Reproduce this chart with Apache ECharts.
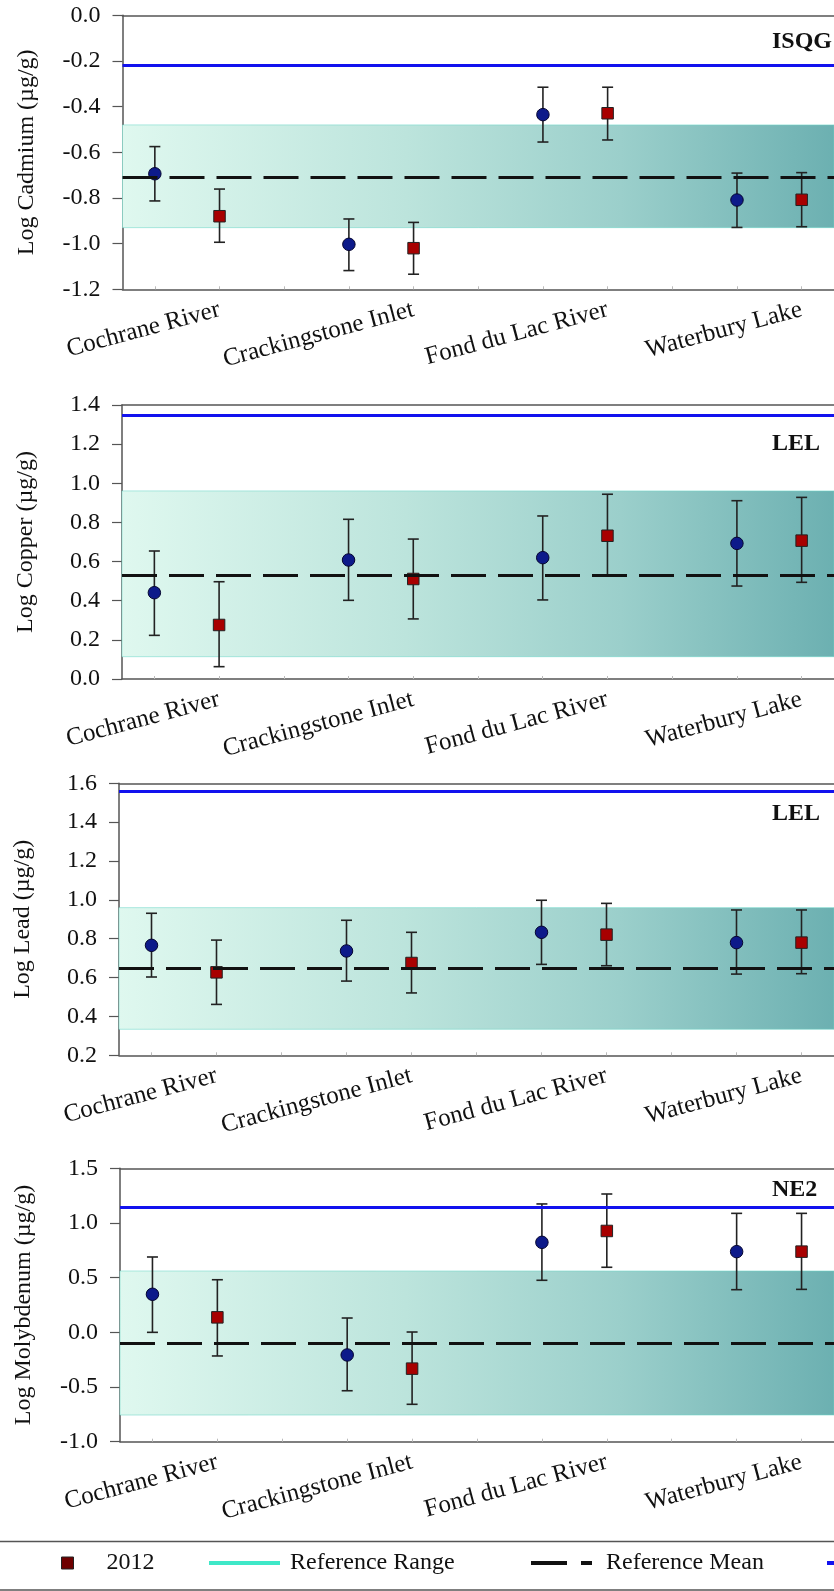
<!DOCTYPE html>
<html><head><meta charset="utf-8">
<script src="https://cdn.jsdelivr.net/npm/echarts@6/dist/echarts.min.js"></script>
<style>html,body{margin:0;padding:0;background:#fff;overflow:hidden}#c{width:834px;height:1591px}</style>
</head><body><div id="c"></div><script>
// ---- data ----
const categories = ['Cochrane River', 'Crackingstone Inlet', 'Fond du Lac River', 'Waterbury Lake'];
const yearNames = ['2008', '2012'];
const metalNames = ['Cadmium', 'Copper', 'Lead', 'Molybdenum'];
const guidelineNames = ['ISQG', 'LEL', 'LEL', 'NE2'];

const cadmium2008 = [-0.694, -1.003, -0.435, -0.809];
const cadmium2008Lo = [-0.813, -1.118, -0.555, -0.929];
const cadmium2008Hi = [-0.575, -0.892, -0.315, -0.691];
const cadmium2012 = [-0.880, -1.020, -0.429, -0.808];
const cadmium2012Lo = [-0.994, -1.134, -0.546, -0.926];
const cadmium2012Hi = [-0.761, -0.907, -0.315, -0.689];

const copper2008 = [0.441, 0.608, 0.620, 0.693];
const copper2008Lo = [0.223, 0.402, 0.404, 0.475];
const copper2008Hi = [0.654, 0.816, 0.833, 0.911];
const copper2012 = [0.276, 0.511, 0.732, 0.707];
const copper2012Lo = [0.063, 0.307, 0.531, 0.494];
const copper2012Hi = [0.497, 0.715, 0.944, 0.928];

const lead2008 = [0.766, 0.737, 0.833, 0.780];
const lead2008Lo = [0.603, 0.582, 0.668, 0.618];
const lead2008Hi = [0.931, 0.895, 0.998, 0.948];
const lead2012 = [0.627, 0.675, 0.821, 0.780];
const lead2012Lo = [0.462, 0.521, 0.661, 0.620];
const lead2012Hi = [0.793, 0.833, 0.982, 0.948];

const molybdenum2008 = [0.348, -0.207, 0.823, 0.738];
const molybdenum2008Lo = [0.000, -0.534, 0.476, 0.390];
const molybdenum2008Hi = [0.689, 0.131, 1.174, 1.088];
const molybdenum2012 = [0.137, -0.332, 0.927, 0.738];
const molybdenum2012Lo = [-0.216, -0.658, 0.595, 0.393];
const molybdenum2012Hi = [0.481, 0.003, 1.265, 1.088];

// reference range [low, high], reference mean, guideline
const refRangeLow = [-0.93, 0.114, 0.334, -0.756];
const refRangeHigh = [-0.48, 0.961, 0.960, 0.561];
const refMean = [-0.71, 0.531, 0.648, -0.095];
const guideline = [-0.218, 1.349, 1.562, 1.137];

// y axis tick scales
const yMin = [-1.2, 0.0, 0.2, -1.0];
const yMax = [0.0, 1.4, 1.6, 1.5];
const yStep = [0.2, 0.2, 0.2, 0.5];

const panels = [
  {m: cadmium2008, lo: cadmium2008Lo, hi: cadmium2008Hi, m2: cadmium2012, lo2: cadmium2012Lo, hi2: cadmium2012Hi},
  {m: copper2008, lo: copper2008Lo, hi: copper2008Hi, m2: copper2012, lo2: copper2012Lo, hi2: copper2012Hi},
  {m: lead2008, lo: lead2008Lo, hi: lead2008Hi, m2: lead2012, lo2: lead2012Lo, hi2: lead2012Hi},
  {m: molybdenum2008, lo: molybdenum2008Lo, hi: molybdenum2008Hi, m2: molybdenum2012, lo2: molybdenum2012Lo, hi2: molybdenum2012Hi}
];

// ---- layout ----
const FONT = '"Liberation Serif", "Times New Roman", serif';
const gridLeft = [122.5, 122, 119, 120];
const gridTop = [15.3, 405, 783.3, 1168.3];
const gridHeight = [274, 274, 272, 273.4];
const slotW = 65.5;
const guideLabelTop = [30, 431.5, 801.5, 1178];

// category slots: 2008, 2012, gap per site
const slots = [];
categories.forEach((c, i) => { slots.push('', c); if (i < categories.length - 1) slots.push(''); });

const chart = echarts.init(document.getElementById('c'), null, {renderer: 'canvas'});

const grids = [], xAxes = [], xTopAxes = [], yAxes = [], series = [], titles = [];
const bandGradient = () => new echarts.graphic.LinearGradient(0, 0, 1, 0, [
  {offset: 0, color: '#dff8ef'},
  {offset: 0.4, color: '#bce4dc'},
  {offset: 0.7, color: '#9bcfcb'},
  {offset: 1, color: '#6cb0b1'}
]);

panels.forEach((p, k) => {
  grids.push({left: gridLeft[k], top: gridTop[k], width: slotW * slots.length, height: gridHeight[k],
    show: false, containLabel: false});
  xAxes.push({type: 'category', gridIndex: k, data: slots, position: 'bottom', boundaryGap: true,
    axisLine: {show: true, onZero: false, lineStyle: {color: '#555', width: 1.5}},
    axisTick: {show: true, alignWithLabel: true, interval: 0, inside: true, length: 3, lineStyle: {color: '#bbb', width: 1}},
    axisLabel: {interval: 0, rotate: 15, margin: 20, fontFamily: FONT, fontSize: 25, color: '#111'},
    splitLine: {show: false}});
  xTopAxes.push({type: 'category', gridIndex: k, data: slots, position: 'top', boundaryGap: true,
    axisLine: {show: true, onZero: false, lineStyle: {color: '#555', width: 1.5}},
    axisTick: {show: false}, axisLabel: {show: false}, splitLine: {show: false}});
  yAxes.push({type: 'value', gridIndex: k, min: yMin[k], max: yMax[k], interval: yStep[k],
    name: 'Log ' + metalNames[k] + ' (\u00b5g/g)', nameLocation: 'middle', nameRotate: 90, nameGap: 84,
    nameTextStyle: {fontFamily: FONT, fontSize: 24, color: '#111'},
    axisLine: {show: true, onZero: false, lineStyle: {color: '#555', width: 1.5}},
    axisTick: {show: true, length: 10, lineStyle: {color: '#555', width: 1.2}},
    axisLabel: {margin: 22, fontFamily: FONT, fontSize: 24, color: '#111', formatter: v => v.toFixed(1)},
    splitLine: {show: false}});

  series.push({type: 'line', name: 'Reference Range', xAxisIndex: k, yAxisIndex: k, data: [], symbol: 'none', z: 1,
    silent: true,
    markArea: {silent: true, itemStyle: {color: bandGradient(), borderColor: 'rgba(110,215,200,0.55)', borderWidth: 1},
      data: [[{yAxis: refRangeLow[k]}, {yAxis: refRangeHigh[k]}]]}});
  series.push({type: 'line', name: 'Reference Mean', xAxisIndex: k, yAxisIndex: k, data: [], symbol: 'none', z: 2,
    markLine: {silent: true, symbol: ['none', 'none'], label: {show: false}, animation: false,
      lineStyle: {color: '#111', width: 3.2, type: [35, 12]}, emphasis: {disabled: true},
      data: [{yAxis: refMean[k]}]}});
  series.push({type: 'line', name: 'Sediment Quality Guideline', xAxisIndex: k, yAxisIndex: k, data: [], symbol: 'none', z: 2,
    markLine: {silent: true, symbol: ['none', 'none'], label: {show: false}, animation: false,
      lineStyle: {color: '#1212ee', width: 2.8, type: 'solid'}, emphasis: {disabled: true},
      data: [{yAxis: guideline[k]}]}});

  const errData = [];
  categories.forEach((c, i) => {
    errData.push([3 * i, p.lo[i], p.hi[i]]);
    errData.push([3 * i + 1, p.lo2[i], p.hi2[i]]);
  });
  series.push({type: 'custom', name: 'error', xAxisIndex: k, yAxisIndex: k, z: 3, silent: true,
    encode: {x: 0, y: [1, 2]}, data: errData,
    renderItem: (params, api) => {
      const a = api.coord([api.value(0), api.value(1)]);
      const b = api.coord([api.value(0), api.value(2)]);
      const cap = 5.5;
      const st = {stroke: '#222', lineWidth: 1.6, fill: null};
      return {type: 'group', children: [
        {type: 'line', shape: {x1: a[0], y1: a[1], x2: b[0], y2: b[1]}, style: st},
        {type: 'line', shape: {x1: a[0] - cap, y1: a[1], x2: a[0] + cap, y2: a[1]}, style: st},
        {type: 'line', shape: {x1: b[0] - cap, y1: b[1], x2: b[0] + cap, y2: b[1]}, style: st}
      ]};
    }});
  series.push({type: 'scatter', name: yearNames[0], xAxisIndex: k, yAxisIndex: k, z: 4,
    symbol: 'circle', symbolSize: 12.5,
    itemStyle: {color: '#0d1a8a', borderColor: '#050530', borderWidth: 1, opacity: 1},
    data: p.m.map((v, i) => [3 * i, v])});
  series.push({type: 'scatter', name: yearNames[1], xAxisIndex: k, yAxisIndex: k, z: 4,
    symbol: 'rect', symbolSize: 11.5,
    itemStyle: {color: '#a80000', borderColor: '#222', borderWidth: 1, opacity: 1},
    data: p.m2.map((v, i) => [3 * i + 1, v])});

  titles.push({text: guidelineNames[k], left: 772, top: guideLabelTop[k], padding: 0,
    textStyle: {fontFamily: FONT, fontSize: 24, fontWeight: 'bold', color: '#111'}});
});

const legendText = {fontFamily: FONT, fontSize: 24, color: '#111'};
const legTop = 1551;
const legends = [
  {data: [{name: '2012', icon: 'rect', itemStyle: {color: '#6e0000', borderColor: '#222', borderWidth: 1}}],
   left: 61, top: legTop, itemWidth: 12, itemHeight: 12, textStyle: Object.assign({padding: [0, 0, 0, 28]}, legendText)},
  {data: [{name: 'Reference Range', icon: 'rect', itemStyle: {color: '#3ee8c8', borderWidth: 0}}],
   left: 209, top: legTop, itemWidth: 71, itemHeight: 4, textStyle: Object.assign({padding: [0, 0, 0, 5]}, legendText)},
  {data: [{name: 'Reference Mean', icon: 'path://M0,0H36V4H0Z M50,0H61V4H50Z', itemStyle: {color: '#111', borderWidth: 0}}],
   left: 531, top: legTop, itemWidth: 61, itemHeight: 4, textStyle: Object.assign({padding: [0, 0, 0, 9]}, legendText)},
  {data: [{name: 'Sediment Quality Guideline', icon: 'rect', itemStyle: {color: '#1212ee', borderWidth: 0}}],
   left: 827, top: legTop, itemWidth: 71, itemHeight: 4, textStyle: Object.assign({padding: [0, 0, 0, 5]}, legendText)}
].map(l => Object.assign({padding: 0, selectedMode: false, orient: 'horizontal'}, l));

chart.setOption({
  animation: false,
  backgroundColor: '#fff',
  title: titles,
  grid: grids,
  xAxis: xAxes.concat(xTopAxes),
  yAxis: yAxes,
  legend: legends,
  graphic: [{type: 'rect', silent: true, z: 0,
    shape: {x: -5, y: 1541.5, width: 850, height: 48.5},
    style: {fill: 'none', stroke: '#555', lineWidth: 1.5}}],
  series: series
});
</script></body></html>
